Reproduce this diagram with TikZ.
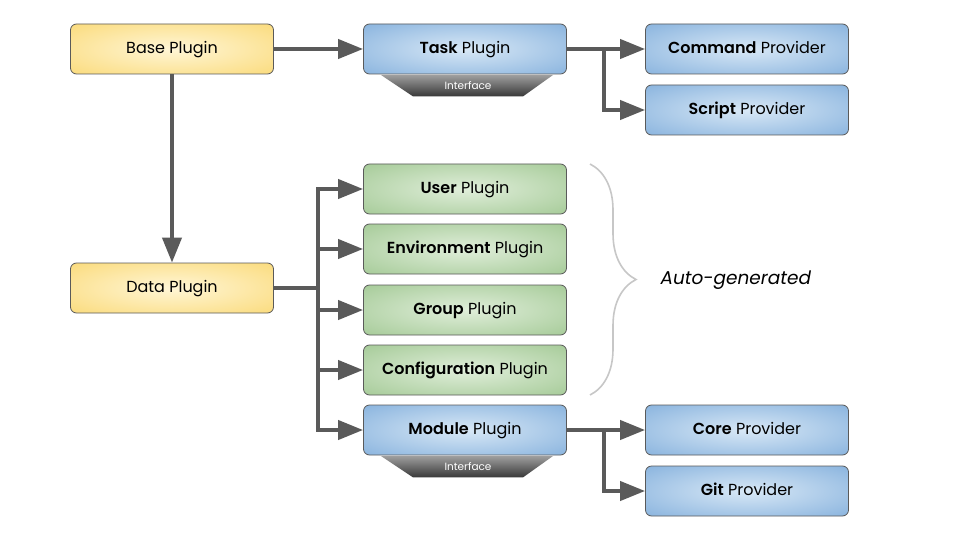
\documentclass[tikz,border=0pt]{standalone}
\usepackage{fontspec}
\setmainfont{Poppins}[BoldFont={Poppins SemiBold}]
\usepackage{tikz}
\usetikzlibrary{calc,arrows.meta,decorations.pathreplacing}

\definecolor{yin}{HTML}{FFF6D6}
\definecolor{yout}{HTML}{F9D25E}
\definecolor{bin}{HTML}{D8E8F6}
\definecolor{bout}{HTML}{6FA2D6}
\definecolor{gin}{HTML}{E0EEDA}
\definecolor{gout}{HTML}{92BF82}
\definecolor{edge}{HTML}{5A5A5A}
\pgfdeclareradialshading{yshade}{\pgfpoint{0bp}{0bp}}{color(0bp)=(yin); color(48bp)=(yout)}
\pgfdeclareradialshading{bshade}{\pgfpoint{0bp}{0bp}}{color(0bp)=(bin); color(48bp)=(bout)}
\pgfdeclareradialshading{gshade}{\pgfpoint{0bp}{0bp}}{color(0bp)=(gin); color(48bp)=(gout)}

\tikzset{
  box/.style={draw=edge, line width=0.8pt, rounded corners=6pt, minimum width=203pt,
    minimum height=50pt, inner sep=0pt, text height=1.15em, text depth=0.2em,
    font=\fontsize{16}{18}\selectfont},
  yellowbox/.style={box, shading=yshade},
  bluebox/.style={box, shading=bshade},
  greenbox/.style={box, shading=gshade},
  wire/.style={draw=edge, line width=4pt},
  arr/.style={wire, -{Triangle[length=25pt,width=19pt]}},
}

\begin{document}
\begin{tikzpicture}[x=1pt,y=-1pt]
    \useasboundingbox[fill=white] (0,0) rectangle (960,540);

    \node[yellowbox] (base) at (172,49) {Base Plugin};
    \node[yellowbox] (data) at (172,288) {Data Plugin};

    \node[bluebox] (task) at (465,49) {\textbf{Task} Plugin};
    \node[bluebox] (cmd) at (747,49) {\textbf{Command} Provider};
    \node[bluebox] (script) at (747,110) {\textbf{Script} Provider};

    \node[greenbox] (user) at (465,189) {\textbf{User} Plugin};
    \node[greenbox] (env) at (465,249) {\textbf{Environment} Plugin};
    \node[greenbox] (group) at (465,310) {\textbf{Group} Plugin};
    \node[greenbox] (config) at (465,370) {\textbf{Configuration} Plugin};
    \node[bluebox] (module) at (465,430) {\textbf{Module} Plugin};

    \node[bluebox] (core) at (747,430) {\textbf{Core} Provider};
    \node[bluebox] (git) at (747,491) {\textbf{Git} Provider};

    \foreach \p in {task,module} {
        \shade[top color=black!38, bottom color=black!78]
            ($(\p.south)+(-84,0.6)$) -- ($(\p.south)+(88,0.6)$)
            -- ($(\p.south)+(58,22)$) -- ($(\p.south)+(-52,22)$) -- cycle;
        \node[text=white, font=\fontsize{10.5}{12}\selectfont] (\p if)
            at ($(\p.south)+(3,11.5)$) {Interface};
    }

    \coordinate (tfork) at (604,49);
    \coordinate (dfork) at (318,288);
    \coordinate (mfork) at (604,430);

    \draw[arr] (base.east) -- (task.west);
    \draw[arr] (base.south) -- (data.north);

    \draw[arr] (task.east) -- (cmd.west);
    \draw[arr] (tfork) |- (script.west);

    \draw[wire] (data.east) -- (dfork);
    \foreach \t in {user,env,group,config,module}
        \draw[arr] (dfork) |- (\t.west);

    \draw[arr] (module.east) -- (core.west);
    \draw[arr] (mfork) |- (git.west);

    \draw[black!22, line width=1.6pt, decorate,
        decoration={brace, amplitude=46pt, aspect=0.5}]
        (590,164) coordinate (btop) -- (590,395) coordinate (bbot);
    \node[anchor=west, font=\fontsize{18.5}{20}\selectfont\itshape] (auto)
        at (657,280) {Auto-generated};
\end{tikzpicture}
\end{document}
